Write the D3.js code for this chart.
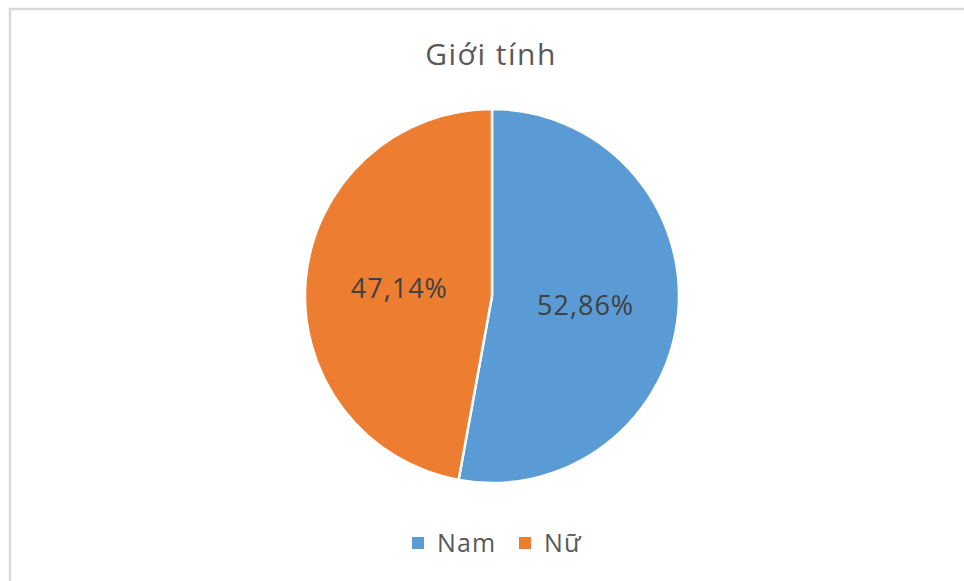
<!DOCTYPE html>
<html><head><meta charset="utf-8">
<script src="https://cdn.jsdelivr.net/npm/d3@7"></script>
<style>html,body{margin:0;padding:0;background:#fff;}svg{display:block;}</style>
</head><body>
<svg id="chart" width="964" height="581"></svg>
<script>
const title = "Giới tính";
const categories = ["Nam", "Nữ"];
const values = [52.86, 47.14];
const labels = ["52,86%", "47,14%"];
const colors = ["#5B9BD5", "#ED7D31"];

const svg = d3.select("#chart");
const W = 964, H = 581;
const font = "'Open Sans', Lato, sans-serif";
const textColor = "#595959";

// chart border (clipped at right/bottom)
svg.append("rect").attr("x", 10).attr("y", 9).attr("width", W).attr("height", H)
  .attr("fill", "#fff").attr("stroke", "#d9d9d9").attr("stroke-width", 2.5);

svg.append("text").attr("x", 491).attr("y", 65).attr("text-anchor", "middle")
  .attr("font-family", font).attr("font-size", 30).attr("letter-spacing", 1.5)
  .attr("fill", textColor).text(title);

const cx = 492, cy = 296, r = 187;
const data = categories.map((c, i) => ({cat: c, value: values[i], label: labels[i], color: colors[i]}));
const pie = d3.pie().sort(null).value(d => d.value);
const arc = d3.arc().innerRadius(0).outerRadius(r);
const labelArc = d3.arc().innerRadius(r * 0.5).outerRadius(r * 0.5);
const g = svg.append("g").attr("transform", `translate(${cx},${cy})`);
const arcs = pie(data);
g.selectAll("path").data(arcs).join("path")
  .attr("d", arc).attr("fill", d => d.data.color)
  .attr("stroke", "#fff").attr("stroke-width", 2.5);
g.selectAll("text").data(arcs).join("text")
  .attr("transform", d => { const c = labelArc.centroid(d); return `translate(${c[0] + 0.5},${c[1]})`; })
  .attr("text-anchor", "middle").attr("dominant-baseline", "central")
  .attr("font-family", font).attr("font-size", 27).attr("letter-spacing", 1)
  .attr("fill", "#404040")
  .text(d => d.data.label);

// legend
const legend = svg.append("g");
const legendX = [412, 519];
categories.forEach((c, i) => {
  legend.append("rect").attr("x", legendX[i]).attr("y", 537).attr("width", 12).attr("height", 12).attr("fill", colors[i]);
  legend.append("text").attr("x", legendX[i] + 25).attr("y", 552)
    .attr("font-family", font).attr("font-size", 25).attr("letter-spacing", 1.2)
    .attr("fill", textColor).text(c);
});
</script>
</body></html>
